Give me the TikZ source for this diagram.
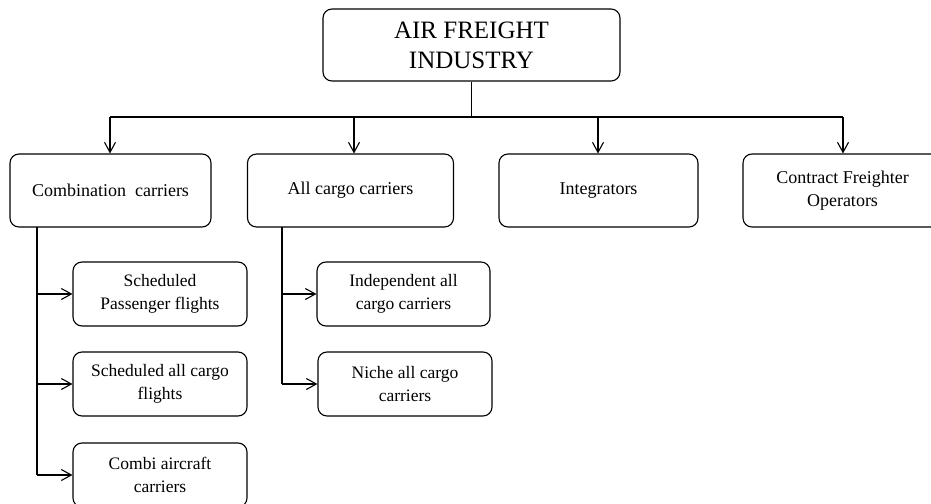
\documentclass[tikz,border=0pt]{standalone}
\usepackage{fontspec}
\setmainfont{Liberation Serif}
\usetikzlibrary{arrows.meta}
\begin{document}
\begin{tikzpicture}[x=1pt,y=-1pt,
  box/.style={draw, line width=1.1pt, rounded corners=9pt, inner sep=0pt, align=center},
  topbox/.style={box, minimum width=297pt, minimum height=72pt, font=\fontsize{25}{30}\selectfont},
  mainbox/.style={box, minimum height=73pt, font=\fontsize{18}{22.7}\selectfont},
  subbox/.style={box, minimum height=64pt, font=\fontsize{17.5}{23}\selectfont},
  conn/.style={line width=1.1pt},
  arr/.style={conn, -{Straight Barb[length=10pt,width=11pt,line width=1.1pt]}}]
\clip (0,0) rectangle (931,503);
\fill[white] (0,0) rectangle (931,503);

\node[topbox] (top) at (471.5,45) {AIR FREIGHT\\INDUSTRY};

\node[mainbox, minimum width=201pt] (comb) at (110.5,190.5) {Combination\ \ carriers};
\node[mainbox, minimum width=206pt] (allc) at (350.5,190.5) {All cargo carriers};
\node[mainbox, minimum width=199pt] (integ) at (598.5,190.5) {Integrators};
\node[mainbox, minimum width=199pt] (contr) at (842.5,190.5) {Contract Freighter\\Operators};

\node[subbox, minimum width=174pt] (s1) at (160,294) {Scheduled\\Passenger flights};
\node[subbox, minimum width=174pt] (s2) at (160,384) {Scheduled all cargo\\flights};
\node[subbox, minimum width=174pt] (s3) at (160,475) {Combi aircraft\\carriers};

\node[subbox, minimum width=173pt] (a1) at (403.5,294) {Independent all\\cargo carriers};
\node[subbox, minimum width=174pt] (a2) at (405,384) {Niche all cargo\\carriers};

% bus
\coordinate (b1) at (110,117);
\coordinate (b2) at (354,117);
\coordinate (b3) at (598,117);
\coordinate (b4) at (843,117);
\draw[conn] (top.south) -- (top.south |- b1);
\draw[conn] (b1) -- (b4);
\draw[arr] (b1) -- (b1 |- comb.north);
\draw[arr] (b2) -- (b2 |- allc.north);
\draw[arr] (b3) -- (b3 |- integ.north);
\draw[arr] (b4) -- (b4 |- contr.north);

% combination children
\coordinate (cl) at (37,227);
\draw[conn] (cl) -- (cl |- s3.west);
\draw[arr] (cl |- s1.west) -- (s1.west);
\draw[arr] (cl |- s2.west) -- (s2.west);
\draw[arr] (cl |- s3.west) -- (s3.west);

% all cargo children
\coordinate (al) at (282,227);
\draw[conn] (al) -- (al |- a2.west);
\draw[arr] (al |- a1.west) -- (a1.west);
\draw[arr] (al |- a2.west) -- (a2.west);
\end{tikzpicture}
\end{document}
